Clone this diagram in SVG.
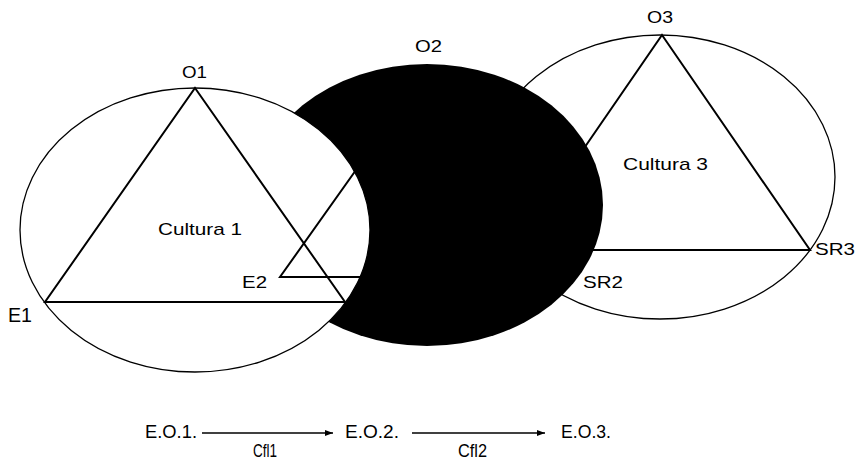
<svg xmlns="http://www.w3.org/2000/svg" width="859" height="462" viewBox="0 0 859 462">
<style>
.ell{fill:none;stroke:#000;stroke-width:1.3}
.tri{fill:none;stroke:#000;stroke-width:2;stroke-linejoin:miter}
.lbl{font-family:"Liberation Sans",Arial,sans-serif;font-size:17px;fill:#000}
.big{font-size:20px}
.bot{font-size:18px}
.arr{stroke:#000;stroke-width:1.3;fill:none}
</style>
<defs>
<marker id="ah" viewBox="0 0 8 6" refX="8" refY="3" markerWidth="8" markerHeight="6" markerUnits="userSpaceOnUse" orient="auto">
<path d="M0,0 L8,3 L0,6 Z" fill="#000"/>
</marker>
<mask id="crescent" maskUnits="userSpaceOnUse" x="0" y="0" width="859" height="462">
<rect x="0" y="0" width="859" height="462" fill="#fff"/>
<ellipse cx="195" cy="230" rx="175" ry="142" fill="#000"/>
</mask>
</defs>
<rect width="859" height="462" fill="#fff"/>
<g id="cultura3">
<ellipse class="ell" cx="660" cy="177" rx="175" ry="142" fill="#fff"/>
<polygon class="tri" points="662,35 810,250 514,250"/>
</g>
<g id="cultura2">
<polygon class="tri" points="427,70 280,277 574,277" stroke-linejoin="round"/>
<ellipse cx="427" cy="205" rx="176" ry="141" fill="#000" mask="url(#crescent)"/>
</g>
<g id="cultura1">
<ellipse class="ell" cx="195" cy="230" rx="175" ry="142"/>
<polygon class="tri" points="195,88 345,302 45,302"/>
</g>
<g id="labels">
<text class="lbl" x="182" y="78" textLength="25" lengthAdjust="spacingAndGlyphs">O1</text>
<text class="lbl" x="415" y="52" textLength="27" lengthAdjust="spacingAndGlyphs">O2</text>
<text class="lbl" x="647" y="23" textLength="26" lengthAdjust="spacingAndGlyphs">O3</text>
<text class="lbl" x="158" y="235" textLength="84" lengthAdjust="spacingAndGlyphs">Cultura 1</text>
<text class="lbl" x="623" y="170" textLength="85" lengthAdjust="spacingAndGlyphs">Cultura 3</text>
<text class="lbl big" x="8" y="322" textLength="24" lengthAdjust="spacingAndGlyphs">E1</text>
<text class="lbl" x="242" y="288" textLength="25" lengthAdjust="spacingAndGlyphs">E2</text>
<text class="lbl" x="583" y="288" textLength="40" lengthAdjust="spacingAndGlyphs">SR2</text>
<text class="lbl" x="815" y="255" textLength="40" lengthAdjust="spacingAndGlyphs">SR3</text>
</g>
<g id="EO1"><text class="lbl bot" x="145" y="438" textLength="52" lengthAdjust="spacingAndGlyphs">E.O.1.</text></g>
<g id="EO2"><text class="lbl bot" x="345" y="438" textLength="54" lengthAdjust="spacingAndGlyphs">E.O.2.</text></g>
<g id="EO3"><text class="lbl bot" x="561" y="438" textLength="50" lengthAdjust="spacingAndGlyphs">E.O.3.</text></g>
<g id="connectors">
<line class="arr" x1="202" y1="433" x2="333" y2="433" marker-end="url(#ah)"/>
<line class="arr" x1="412" y1="433" x2="545" y2="433" marker-end="url(#ah)"/>
<text class="lbl bot" x="253" y="457" textLength="24" lengthAdjust="spacingAndGlyphs">Cfl1</text>
<text class="lbl bot" x="458" y="457" textLength="29" lengthAdjust="spacingAndGlyphs">Cfl2</text>
</g>
</svg>
